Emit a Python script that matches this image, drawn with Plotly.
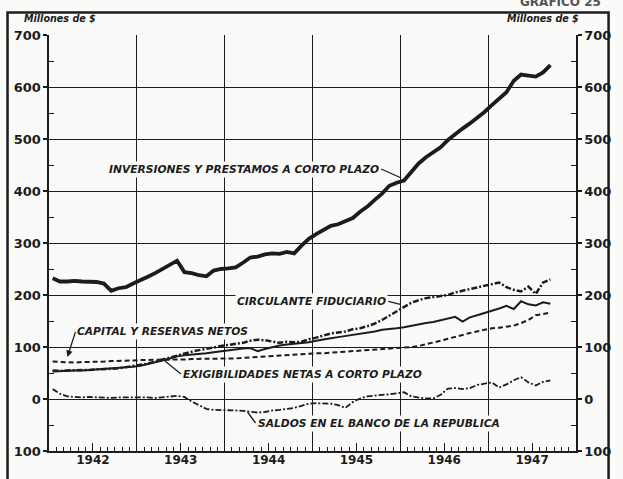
import plotly.graph_objects as go

start_year = 1942
years = [1942, 1943, 1944, 1945, 1946, 1947]
y_ticks = [-100, 0, 100, 200, 300, 400, 500, 600, 700]
y_ticktext = ["100", "0", "100", "200", "300", "400", "500", "600", "700"]

inversiones = [232, 226, 226, 227, 226, 225, 225, 222, 208, 213,
               215, 222, 228, 235, 242, 250, 256, 266, 244, 242,
               238, 236, 247, 250, 251, 253, 262, 272, 274, 278,
               280, 279, 283, 280, 295, 308, 317, 325, 333, 336,
               342, 348, 360, 370, 383, 395, 410, 416, 420, 436,
               453, 465, 474, 484, 498, 510, 520, 530, 540, 552,
               565, 578, 590, 612, 624, 622, 620, 628, 642]
circulante = [55, 54, 55, 55, 56, 56, 57, 57, 58, 59,
              61, 64, 65, 68, 72, 76, 80, 84, 88, 91,
              94, 96, 99, 102, 104, 106, 108, 112, 114, 113,
              110, 108, 110, 109, 110, 115, 118, 122, 126, 128,
              130, 134, 136, 140, 145, 152, 160, 168, 177, 185,
              190, 194, 196, 198, 200, 205, 208, 212, 215, 218,
              220, 224, 215, 210, 207, 216, 202, 224, 230]
exigibilidades = [53, 54, 54, 55, 55, 56, 57, 57, 58, 59,
                  60, 62, 64, 67, 70, 74, 78, 82, 84, 85,
                  86, 88, 90, 92, 93, 95, 97, 98, 92, 96,
                  100, 103, 105, 106, 107, 109, 112, 115, 117, 119,
                  121, 123, 125, 127, 130, 133, 134, 136, 138, 141,
                  143, 146, 148, 151, 155, 158, 149, 157, 161, 165,
                  170, 174, 179, 173, 188, 182, 180, 186, 183]
capital = [72, 71, 70, 70, 71, 71, 72, 72, 73, 73,
           74, 74, 75, 75, 75, 76, 76, 76, 76, 77,
           77, 77, 78, 78, 78, 78, 79, 80, 80, 81,
           82, 83, 84, 85, 86, 87, 88, 88, 89, 90,
           90, 91, 92, 93, 94, 95, 96, 97, 98, 100,
           102, 105, 108, 112, 116, 119, 123, 127, 130, 133,
           136, 137, 139, 141, 146, 152, 161, 164, 166]
saldos = [19, 10, 5, 4, 3, 4, 3, 3, 2, 3,
          3, 4, 3, 3, 2, 3, 4, 6, 4, -5,
          -12, -19, -21, -21, -22, -22, -23, -24, -26, -25,
          -22, -21, -19, -17, -13, -9, -8, -8, -9, -12,
          -17, -6, 1, 5, 7, 8, 9, 11, 13, 5,
          3, 1, 1, 8, 20, 21, 19, 21, 27, 29,
          32, 22, 28, 36, 42, 32, 26, 33, 36]

x = [start_year + (i + 0.5) / 12 for i in range(len(inversiones))]

INK = "#1c1c1c"
BG = "#fafaf8"
FONT = "DejaVu Sans"

fig = go.Figure()

def add_line(vals, width, dash):
    fig.add_trace(go.Scatter(x=x, y=vals, mode="lines",
                             line=dict(color=INK, width=width, dash=dash),
                             hoverinfo="skip", showlegend=False))

add_line(saldos, 1.8, "6px,2px,2px,2px")
add_line(capital, 2.0, "5px,3px")
add_line(exigibilidades, 2.0, "solid")
add_line(circulante, 2.5, "6px,2px,2px,2px")
add_line(inversiones, 3.8, "solid")

# invisible helper traces so that the secondary axes are rendered
for xa, ya in (("x2", "y"), ("x3", "y"), ("x", "y2")):
    fig.add_trace(go.Scatter(x=x, y=inversiones, xaxis=xa, yaxis=ya,
                             mode="lines", line=dict(width=0), opacity=0,
                             hoverinfo="skip", showlegend=False))

xr = [1942, 1948]
yr = [-100, 700]

fig.update_layout(
    width=623, height=479, autosize=False,
    margin=dict(l=49, r=40, t=35, b=19),
    paper_bgcolor=BG, plot_bgcolor=BG,
    showlegend=False,
    xaxis=dict(range=xr, tickmode="linear", tick0=1942, dtick=1 / 12,
               showgrid=False, showticklabels=False,
               ticks="inside", ticklen=4, tickcolor=INK, tickwidth=1,
               showline=True, linecolor=INK, linewidth=1.6, zeroline=False),
    xaxis2=dict(range=xr, overlaying="x", anchor="y", side="bottom",
                tickmode="array", tickvals=[yv + 0.5 for yv in years],
                ticktext=[str(yv) for yv in years],
                ticks="inside", ticklen=8, tickcolor=INK, tickwidth=1,
                showgrid=False, zeroline=False, showline=False,
                tickfont=dict(family=FONT, size=12, color=INK, weight="bold")),
    xaxis3=dict(range=xr, overlaying="x", anchor="y", side="bottom",
                tickmode="linear", tick0=1943, dtick=1,
                showgrid=True, gridcolor=INK, gridwidth=1,
                ticks="", showticklabels=False, zeroline=False, showline=False),
    yaxis=dict(range=yr, tickmode="array", tickvals=y_ticks, ticktext=y_ticktext,
               showgrid=True, gridcolor=INK, gridwidth=1,
               ticks="outside", ticklen=4, tickcolor=INK, tickwidth=1.2,
               showline=True, linecolor=INK, linewidth=1.6, zeroline=False,
               tickfont=dict(family=FONT, size=13, color=INK, weight="bold"),
               minor=dict(tickmode="linear", tick0=50, dtick=100,
                          ticks="inside", ticklen=5, tickcolor=INK,
                          tickwidth=1, showgrid=False)),
    yaxis2=dict(range=yr, overlaying="y", side="right", anchor="x",
                tickmode="array", tickvals=y_ticks, ticktext=y_ticktext,
                showgrid=False, ticks="outside", ticklen=4, tickcolor=INK,
                tickwidth=1.2, showline=True, linecolor=INK, linewidth=1.6,
                zeroline=False,
                tickfont=dict(family=FONT, size=13, color=INK, weight="bold"),
                minor=dict(tickmode="linear", tick0=50, dtick=100,
                           ticks="inside", ticklen=5, tickcolor=INK,
                           tickwidth=1, showgrid=False)),
)

# outer frame of the page
fig.add_shape(type="rect", xref="paper", yref="paper",
              x0=-0.0787, x1=1.0618, y0=-0.1, y1=1.0541,
              line=dict(color=INK, width=2.5), fillcolor="rgba(0,0,0,0)")

lab_font = dict(family=FONT, size=10.7, color=INK)

def label(text, xv, yv, ax, ay, xanchor, head=0):
    fig.add_annotation(x=xv, y=yv, xref="x", yref="y",
                       text="<b><i>" + text + "</i></b>",
                       showarrow=True, arrowhead=head, arrowsize=1,
                       arrowwidth=1.3, arrowcolor=INK,
                       ax=ax, ay=ay, xanchor=xanchor, yanchor="middle",
                       font=lab_font, bgcolor=BG, borderpad=1)

label("INVERSIONES Y PRESTAMOS A CORTO PLAZO", 1946.01, 425, -20, -9, "right")
label("CIRCULANTE FIDUCIARIO", 1946.0, 182, -12, -3, "right")
label("CAPITAL Y RESERVAS NETOS", 1942.21, 81, 8, -25, "left", head=2)
label("EXIGIBILIDADES NETAS A CORTO PLAZO", 1943.32, 73, 16, 13, "left")
label("SALDOS EN EL BANCO DE LA REPUBLICA", 1944.26, -25, 8, 11, "left")

unit_font = dict(family=FONT, size=9.6, color=INK)
fig.add_annotation(xref="paper", yref="paper", x=-0.051, y=1.04,
                   text="<b><i>Millones de $</i></b>", showarrow=False,
                   xanchor="left", yanchor="middle", font=unit_font)
fig.add_annotation(xref="paper", yref="paper", x=1.0094, y=1.04,
                   text="<b><i>Millones de $</i></b>", showarrow=False,
                   xanchor="right", yanchor="middle", font=unit_font)
fig.add_annotation(xref="paper", yref="paper", x=1.0506, y=1.0805,
                   text="<b>GRAFICO 25</b>", showarrow=False,
                   xanchor="right", yanchor="middle",
                   font=dict(family=FONT, size=12, color="#555555"))

fig.write_html("out.html",
               config={"responsive": False, "displayModeBar": False,
                       "staticPlot": True},
               post_script="document.body.style.margin='0';"
                           "document.body.style.overflow='hidden';")
